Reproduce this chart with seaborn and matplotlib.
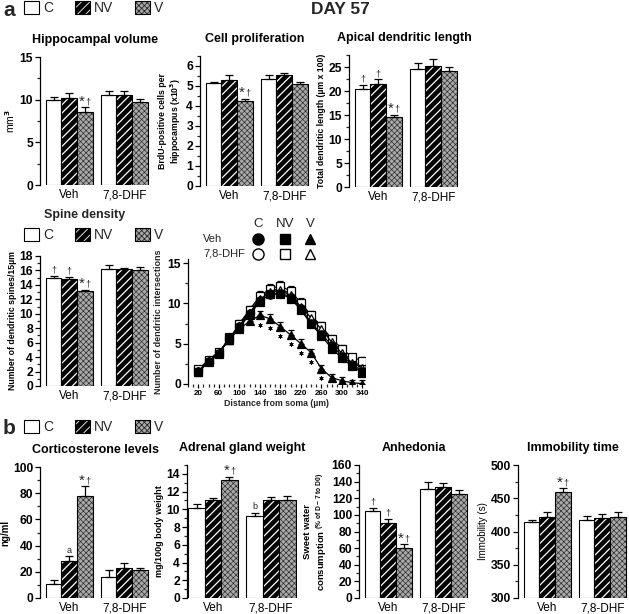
import numpy as np
import pandas as pd
import matplotlib
matplotlib.use('Agg')
import matplotlib.pyplot as plt
import seaborn as sns
from matplotlib.patches import Patch
from matplotlib.lines import Line2D
from matplotlib.ticker import MultipleLocator

sns.set_theme(style='ticks')
plt.rcParams['font.family'] = ['Liberation Sans', 'DejaVu Sans']
plt.rcParams['font.weight'] = 'bold'
plt.rcParams['hatch.linewidth'] = 0.6

groups = ['C', 'NV', 'V']
treatments = ['Veh', '7,8-DHF']

# bar data: values for C, NV, V
hippo_veh, hippo_veh_err = [10.0, 10.2, 8.6], [0.35, 0.55, 0.5]
hippo_dhf, hippo_dhf_err = [10.5, 10.5, 9.7], [0.5, 0.5, 0.35]
prolif_veh, prolif_veh_err = [5.15, 5.3, 4.25], [0.05, 0.25, 0.12]
prolif_dhf, prolif_dhf_err = [5.35, 5.55, 5.1], [0.2, 0.12, 0.1]
apical_veh, apical_veh_err = [20.4, 21.4, 14.5], [0.8, 1.0, 0.6]
apical_dhf, apical_dhf_err = [24.6, 25.3, 24.1], [1.2, 1.3, 0.8]
spine_veh, spine_veh_err = [14.9, 14.8, 13.2], [0.35, 0.35, 0.15]
spine_dhf, spine_dhf_err = [16.2, 16.2, 16.1], [0.5, 0.15, 0.35]
cort_veh, cort_veh_err = [11, 28, 77.5], [2.5, 4, 8]
cort_dhf, cort_dhf_err = [16, 23, 21], [5, 3.5, 2]
adrenal_veh, adrenal_veh_err = [10.2, 11.0, 13.3], [0.4, 0.3, 0.4]
adrenal_dhf, adrenal_dhf_err = [9.3, 11.1, 11.1], [0.3, 0.3, 0.45]
anhed_veh, anhed_veh_err = [105, 90, 60], [3, 5, 5]
anhed_dhf, anhed_dhf_err = [131, 133, 125], [9, 5, 5]
immob_veh, immob_veh_err = [414, 422, 459], [4, 7, 6]
immob_dhf, immob_dhf_err = [417, 420, 422], [6, 7, 7]

# Sholl analysis
distance = [20, 40, 60, 80, 100, 120, 140, 160, 180, 200, 220, 240, 260, 280, 300, 320, 340]
sholl_c_veh = [1.6, 2.8, 3.8, 5.6, 7.2, 8.8, 10.4, 11.0, 11.3, 10.8, 9.4, 7.6, 6.2, 4.8, 3.5, 2.4, 1.6]
sholl_nv_veh = [1.5, 2.7, 3.7, 5.8, 7.0, 8.6, 10.2, 11.2, 11.2, 10.6, 9.2, 7.4, 6.0, 4.4, 3.2, 2.2, 1.4]
sholl_v_veh = [1.5, 2.8, 3.8, 5.5, 6.8, 7.8, 8.5, 8.1, 7.1, 6.1, 5.0, 3.9, 1.9, 0.8, 0.4, 0.15, 0.05]
sholl_c_dhf = [1.7, 2.9, 3.9, 5.6, 7.3, 9.0, 10.6, 11.6, 11.8, 11.2, 9.8, 8.4, 7.0, 5.4, 4.0, 2.8, 2.2]
sholl_nv_dhf = [1.8, 3.0, 4.0, 5.4, 7.5, 9.2, 10.9, 11.8, 12.2, 11.5, 10.1, 8.5, 7.2, 5.6, 4.4, 3.3, 2.9]
sholl_v_dhf = [1.6, 2.8, 3.9, 5.5, 7.2, 8.8, 10.5, 11.4, 11.6, 11.0, 9.6, 8.2, 6.8, 5.2, 3.8, 2.6, 2.0]
sholl_err = [0.3, 0.3, 0.35, 0.4, 0.45, 0.5, 0.6, 0.6, 0.6, 0.6, 0.55, 0.5, 0.5, 0.5, 0.45, 0.4, 0.4]
sholl_star = [140, 160, 180, 200, 220, 240, 260, 280]

W, H = 629, 614
fig = plt.figure(figsize=(W / 100, H / 100), dpi=100)

# NV: black bar with thin white stripes, V: grey stipple
styles = {'C': dict(facecolor='white', hatch=None, hcolor=None, hlw=0.6),
          'NV': dict(facecolor='black', hatch='////', hcolor=(1, 1, 1, 1), hlw=0.9),
          'V': dict(facecolor='#a9a9a9', hatch='xxxxxx', hcolor=(0.15, 0.15, 0.15, 1), hlw=0.45)}


def apply_style(patch, g):
    st = styles[g]
    patch.set_facecolor(st['facecolor'])
    patch.set_edgecolor('black')
    if st['hatch']:
        patch.set_hatch(st['hatch'])
        patch._hatch_color = st['hcolor']
        if hasattr(patch, 'set_hatch_linewidth'):
            patch.set_hatch_linewidth(st['hlw'])


def px(l, t, r, b):
    return [l / W, 1 - b / H, (r - l) / W, (b - t) / H]


def style_left(ax, ylim, major, minor, fs=8.7):
    sns.despine(ax=ax, bottom=True)
    ax.set_ylim(*ylim)
    ax.yaxis.set_major_locator(MultipleLocator(major))
    ax.yaxis.set_minor_locator(MultipleLocator(minor))
    ax.tick_params(axis='y', which='major', length=3.5, width=0.9, labelsize=fs, pad=1.5, colors='black')
    ax.tick_params(axis='y', which='minor', length=2, width=0.9)
    ax.spines['left'].set_linewidth(0.9)
    ax.spines['left'].set_color('black')


def bar_panel(rect, veh, dhf, veh_err, dhf_err, ylim, major, minor, title, ylabel,
              marks=(), ylabel_fs=6.5, ylabel_bold=True, xlim=(-0.53, 1.47)):
    ax = fig.add_axes(px(*rect))
    ax.set_facecolor('none')
    df = pd.DataFrame({'treat': np.repeat(treatments, 3), 'group': groups * 2, 'val': veh + dhf})
    sns.barplot(data=df, x='treat', y='val', hue='group', order=treatments, hue_order=groups,
                palette={g: styles[g]['facecolor'] for g in groups}, width=0.85, gap=0,
                errorbar=None, legend=False, edgecolor='black', linewidth=0.8, ax=ax,
                saturation=1)
    errs = {g: [veh_err[i], dhf_err[i]] for i, g in enumerate(groups)}
    tops = {}
    for cont, g in zip(ax.containers, groups):
        for j, bar in enumerate(cont):
            apply_style(bar, g)
            if ylim[0] > 0:
                h = bar.get_height()
                bar.set_y(ylim[0])
                bar.set_height(h - ylim[0])
            xc = bar.get_x() + bar.get_width() / 2
            yv = bar.get_y() + bar.get_height()
            ax.errorbar(xc, yv, yerr=[[0], [errs[g][j]]], fmt='none', ecolor='black',
                        elinewidth=0.9, capsize=2.8, capthick=0.9, zorder=1)
            tops[(j, g)] = (xc, yv + errs[g][j])
    for (j, g, txt) in marks:
        xc, yt = tops[(j, g)]
        if txt == '*†':
            ax.annotate('*', (xc, yt), xytext=(-2.2, -1), textcoords='offset points',
                        ha='center', va='bottom', fontsize=11, fontweight='normal')
            ax.annotate('†', (xc, yt), xytext=(2.6, 0.5), textcoords='offset points',
                        ha='center', va='bottom', fontsize=6.5, fontweight='normal')
        else:
            ax.annotate(txt, (xc, yt), xytext=(0, 1), textcoords='offset points',
                        ha='center', va='bottom', fontsize=6.5, fontweight='normal')
    ax.set_xlim(*xlim)
    ax.set_xlabel('')
    ax.set_xticks([0, 1], treatments, fontweight='normal')
    ax.tick_params(axis='x', length=0, labelsize=8.5, pad=3, colors='black')
    style_left(ax, ylim, major, minor)
    ax.set_ylabel(ylabel, fontsize=ylabel_fs, fontweight='bold' if ylabel_bold else 'normal',
                  labelpad=2, color='black')
    ax.set_title(title, fontsize=9, fontweight='bold', pad=10, color='black')
    return ax


# ---- panel a, row 1
bar_panel((40, 57, 150, 185), hippo_veh, hippo_dhf, hippo_veh_err, hippo_dhf_err,
          (0, 15), 5, 2.5, 'Hippocampal volume', 'mm$^3$',
          marks=[(0, 'V', '*†')], ylabel_fs=7.5, ylabel_bold=False)
bar_panel((200, 56, 310, 186), prolif_veh, prolif_dhf, prolif_veh_err, prolif_dhf_err,
          (0, 6.5), 1, 0.5, 'Cell proliferation',
          'BrdU-positive cells per\nhippocampus (x10$^3$)',
          marks=[(0, 'V', '*†')], ylabel_fs=6.3)
bar_panel((349, 55, 459, 187), apical_veh, apical_dhf, apical_veh_err, apical_dhf_err,
          (0, 27.5), 5, 2.5, 'Apical dendritic length', 'Total dendritic length (µm x 100)',
          marks=[(0, 'C', '†'), (0, 'NV', '†'), (0, 'V', '*†')], ylabel_fs=6.3)

# ---- panel a, row 2
bar_panel((40, 256, 150, 386), spine_veh, spine_dhf, spine_veh_err, spine_dhf_err,
          (0, 18), 2, 1, '', 'Number of dendritic spines/15µm',
          marks=[(0, 'C', '†'), (0, 'NV', '†'), (0, 'V', '*†')], ylabel_fs=6.3)
fig.text(85 / W, 1 - 215 / H, 'Spine density', ha='center', va='center',
         fontsize=9, fontweight='bold')

ax = fig.add_axes(px(188, 259, 365, 384))
ax.set_facecolor('none')
series = [(sholl_c_dhf, 'o', 'white'), (sholl_nv_dhf, 's', 'white'), (sholl_v_dhf, '^', 'white'),
          (sholl_c_veh, 'o', 'black'), (sholl_nv_veh, 's', 'black'), (sholl_v_veh, '^', 'black')]
for vals, mk, fc in series:
    ax.errorbar(distance, vals, yerr=[np.zeros(len(vals)), sholl_err], fmt='-' + mk,
                color='black', mfc=fc, mec='black', ms=5.3, mew=0.9, lw=0.9,
                elinewidth=0.8, capsize=2.2, capthick=0.8)
star_y = [sholl_v_veh[distance.index(d)] for d in sholl_star]
ax.plot(sholl_star, np.array(star_y) - 1.2, ls='none', marker=(6, 2, 0), ms=3,
        mew=0.6, color='black')
sns.despine(ax=ax)
ax.set_xlim(0, 345)
ax.xaxis.set_major_locator(MultipleLocator(40, offset=20))
ax.xaxis.set_minor_locator(MultipleLocator(10))
ax.tick_params(axis='x', which='major', length=3, width=0.9, labelsize=5.8, pad=1.5, colors='black')
ax.tick_params(axis='x', which='minor', length=2, width=0.9)
ax.spines['bottom'].set_linewidth(0.9)
ax.spines['bottom'].set_color('black')
ax.set_xlabel('Distance from soma (µm)', fontsize=6.3, fontweight='bold', labelpad=1)
style_left(ax, (0, 15.5), 5, 2.5)
ax.set_ylabel('Number of dendritic intersections', fontsize=6.5, fontweight='bold', labelpad=3)

# Sholl legend
for x, lab in zip([258, 285, 310], groups):
    fig.text(x / W, 1 - 224 / H, lab, ha='center', va='center', fontsize=9.5, fontweight='normal')
fig.text(203 / W, 1 - 239 / H, 'Veh', ha='left', va='center', fontsize=8, fontweight='normal')
fig.text(203 / W, 1 - 254 / H, '7,8-DHF', ha='left', va='center', fontsize=8, fontweight='normal')
for row, (y, fc) in enumerate([(239, 'black'), (254, 'white')]):
    for x, mk in zip([258, 285, 310], ['o', 's', '^']):
        fig.add_artist(Line2D([x / W], [1 - y / H], marker=mk, ms=7 if mk != 'o' else 8,
                              mfc=fc, mec='black', mew=1.0, ls='none',
                              transform=fig.transFigure))

# ---- panel b
bar_panel((40, 467, 150, 598), cort_veh, cort_dhf, cort_veh_err, cort_dhf_err,
          (0, 100), 20, 10, 'Corticosterone levels', 'ng/ml',
          marks=[(0, 'NV', 'a'), (0, 'V', '*†')], ylabel_fs=7)
bar_panel((187, 465, 297, 598), adrenal_veh, adrenal_dhf, adrenal_veh_err, adrenal_dhf_err,
          (0, 15), 2, 1, 'Adrenal gland weight', 'mg/100g body weight',
          marks=[(1, 'C', 'b'), (0, 'V', '*†')], ylabel_fs=6.5, xlim=(-0.45, 1.45))
bar_panel((359, 465, 469, 598), anhed_veh, anhed_dhf, anhed_veh_err, anhed_dhf_err,
          (0, 160), 20, 10, 'Anhedonia',
          'Sweet water\nconsumption $\\mathregular{^{(\\% \\; of \\; D-7 \\; to \\; D0)}}$',
          marks=[(0, 'C', '†'), (0, 'NV', '†'), (0, 'V', '*†')], ylabel_fs=6.8)
bar_panel((518, 465, 628, 598), immob_veh, immob_dhf, immob_veh_err, immob_dhf_err,
          (300, 500), 50, 25, 'Immobility time', 'Immobility (s)',
          marks=[(0, 'V', '*†')], ylabel_fs=7, ylabel_bold=False)

# ---- legends and labels
for (x, y) in [(24, 1), (24, 228), (24, 420)]:
    handles = []
    for g in groups:
        p = Patch(linewidth=0.8)
        apply_style(p, g)
        handles.append(p)
    fig.legend(handles, groups, loc='upper left', bbox_to_anchor=(x / W, 1 - y / H),
               ncol=3, frameon=False, prop={'size': 10, 'weight': 'normal'},
               handlelength=1.1, handleheight=1.1,
               handletextpad=0.25, columnspacing=1.6, borderpad=0, borderaxespad=0)
fig.text(3 / W, 1 - 10 / H, 'a', fontsize=15, fontweight='bold', va='center')
fig.text(3 / W, 1 - 428 / H, 'b', fontsize=15, fontweight='bold', va='center')
fig.text(340 / W, 1 - 10 / H, 'DAY 57', fontsize=12.5, fontweight='bold', ha='center', va='center')

fig.savefig('out.png', dpi=100, facecolor='white')
